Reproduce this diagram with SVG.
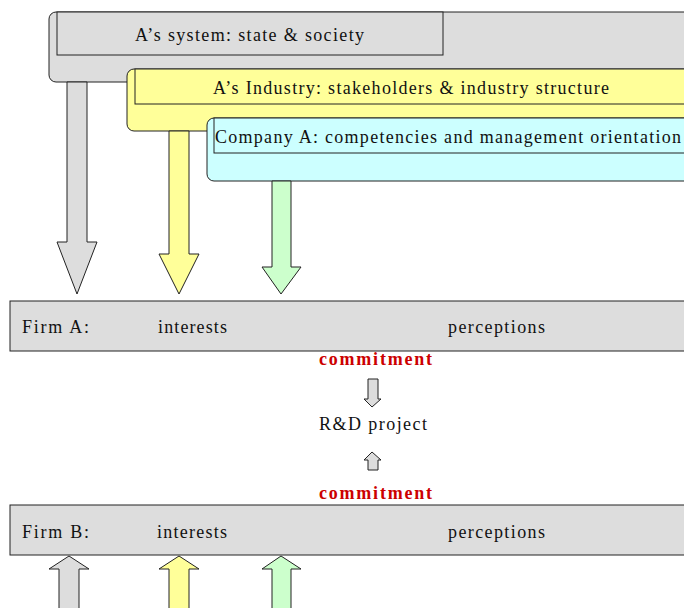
<svg xmlns="http://www.w3.org/2000/svg" width="684" height="608" viewBox="0 0 684 608">
<style>
.t{font-family:"Liberation Serif","Times New Roman",serif;font-size:18px;fill:#111}
.c{font-family:"Liberation Serif","Times New Roman",serif;font-size:18px;font-weight:bold;fill:#cc0000}
.ln{stroke:#222;stroke-width:1}
.g{fill:#dddddd}
.y{fill:#ffff99}
.b{fill:#ccffff}
.gr{fill:#ccffcc}
</style>
<rect width="684" height="608" fill="#fff"/>
<g id="system">
<rect class="g ln" x="49" y="12" width="700" height="70" rx="7"/>
<rect class="g ln" x="57" y="12" width="386" height="43"/>
<text class="t" x="135" y="41" textLength="229" lengthAdjust="spacing">A’s system: state &amp; society</text>
</g>
<g id="industry">
<rect class="y ln" x="127" y="69" width="700" height="62" rx="7"/>
<rect class="y ln" x="135" y="69" width="700" height="35"/>
<text class="t" x="213" y="94" textLength="396" lengthAdjust="spacing">A’s Industry: stakeholders &amp; industry structure</text>
</g>
<g id="company">
<rect class="b ln" x="207" y="118" width="700" height="63" rx="7"/>
<rect class="b ln" x="214" y="118" width="700" height="35"/>
<text class="t" x="215" y="143" textLength="466" lengthAdjust="spacing">Company A: competencies and management orientation</text>
</g>
<g id="connectors">
<polygon class="g ln" points="67,82 87,82 87,242 97,242 77,294 57,242 67,242"/>
<polygon class="y ln" points="169,131 189,131 189,254 199,254 179,294 159,254 169,254"/>
<polygon class="gr ln" points="272,181 291,181 291,267 301,267 281,294 262,267 272,267"/>
<polygon class="g ln" points="368,379 378,379 378,399 381,399 372,407 364,399 368,399"/>
<polygon class="g ln" points="368,470 378,470 378,460 381,460 372,452 364,460 368,460"/>
<polygon class="g ln" points="59,612 79,612 79,569 89,569 69,556 49,569 59,569"/>
<polygon class="y ln" points="169,612 189,612 189,569 199,569 179,556 159,569 169,569"/>
<polygon class="gr ln" points="272,612 291,612 291,569 301,569 281,556 262,569 272,569"/>
</g>
<g id="firmA">
<rect class="g ln" x="10" y="301" width="700" height="50"/>
<text class="t" x="22" y="333" textLength="67" lengthAdjust="spacing">Firm A:</text>
<text class="t" x="158" y="333" textLength="69" lengthAdjust="spacing">interests</text>
<text class="t" x="448" y="333" textLength="97" lengthAdjust="spacing">perceptions</text>
</g>
<g id="commitmentA">
<text class="c" x="319" y="365" textLength="113" lengthAdjust="spacing">commitment</text>
</g>
<g id="rd">
<text class="t" x="319" y="430" textLength="108" lengthAdjust="spacing">R&amp;D project</text>
</g>
<g id="commitmentB">
<text class="c" x="319" y="499" textLength="113" lengthAdjust="spacing">commitment</text>
</g>
<g id="firmB">
<rect class="g ln" x="10" y="505" width="700" height="50"/>
<text class="t" x="22" y="538" textLength="67" lengthAdjust="spacing">Firm B:</text>
<text class="t" x="157" y="538" textLength="70" lengthAdjust="spacing">interests</text>
<text class="t" x="448" y="538" textLength="97" lengthAdjust="spacing">perceptions</text>
</g>
</svg>
